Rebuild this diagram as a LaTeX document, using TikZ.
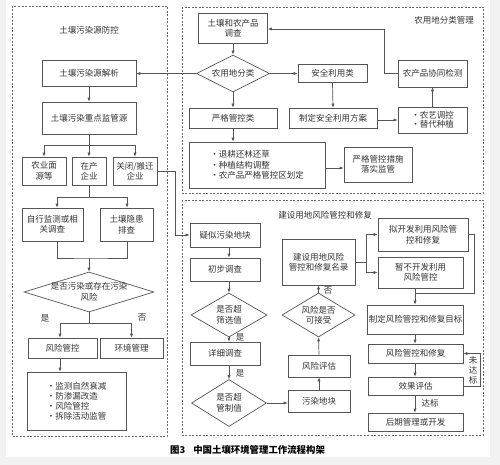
\documentclass[tikz,border=0pt]{standalone}
\usepackage{fontspec}
\setmainfont{Noto Sans CJK SC}
\usetikzlibrary{arrows.meta,shapes.geometric,calc}
\definecolor{tc}{HTML}{333333}
\definecolor{bc}{HTML}{555555}
\definecolor{lc}{HTML}{555555}
\definecolor{dc}{HTML}{6A6A6A}
\definecolor{bgc}{HTML}{F2F2F2}
\newcommand\fs{\fontsize{8.5}{10.5}\selectfont}
\tikzset{
  box/.style={draw=bc, line width=0.7pt, fill=white, inner sep=1pt, align=center, text=tc, font=\fs},
  dia/.style={draw=bc, line width=0.7pt, shape=diamond, inner sep=0pt, fill=white},
  txt/.style={text=tc, font=\fs, align=center, inner sep=0pt},
  ln/.style={draw=lc, line width=0.7pt},
  arr/.style={draw=lc, line width=0.7pt, -{Latex[length=4pt,width=3.2pt]}},
  dbox/.style={draw=dc, line width=0.6pt, dash pattern=on 2pt off 1.5pt},
}
\begin{document}
\begin{tikzpicture}[x=1pt,y=-1pt]
\useasboundingbox (0,0) rectangle (500,465);
\fill[bgc] (0,0) rectangle (500,465);
\fill[white] (6,0) rectangle (490,457);

% dashed panels
\draw[dbox] (12,6) rectangle (167,436);
\draw[dbox] (182,7) rectangle (483,193);
\draw[dbox] (182,200) rectangle (483,435);

% ---------- left panel ----------
\node[txt] (t1) at (89,30) {土壤污染源防控};
\node[box, minimum width=94, minimum height=26] (jx) at (89,73.5) {土壤污染源解析};
\node[box, minimum width=94, minimum height=32] (zd) at (89,118) {土壤污染重点监管源};
\node[box, minimum width=44, minimum height=28] (ny) at (44,171) {农业面\\源等};
\node[box, minimum width=34, minimum height=28] (zc) at (89,171) {在产\\企业};
\node[box, minimum width=44, minimum height=28] (gb) at (135,171) {关闭/搬迁\\企业};
\node[box, minimum width=61, minimum height=33] (zx) at (52.5,224.5) {自行监测或相\\关调查};
\node[box, minimum width=53, minimum height=33] (yh) at (126.5,224.5) {土壤隐患\\排查};
\node[dia, minimum width=130, minimum height=40] (d1) at (89,292) {};
\node[txt] at (d1) {是否污染或存在污染\\风险};
\node[txt] (ls) at (45,318) {是};
\node[txt] (lf) at (142,318) {否};
\node[box, minimum width=69, minimum height=20] (fx) at (62.5,348) {风险管控};
\node[box, minimum width=63, minimum height=20] (hj) at (131.5,348) {环境管理};
\node[box, align=left, minimum width=99, minimum height=58, font=\fontsize{8.5}{10}\selectfont] (b1) at (76.5,401) {·监测自然衰减\\·防渗漏改造\\·风险管控\\·拆除活动监管};

\draw[arr] (jx.south) -- (zd.north);
\draw[arr] (zd.south) -- ++(0,11) -| (ny.north);
\draw[arr] (zd.south) -- (zc.north);
\draw[arr] (zd.south) -- ++(0,11) -| (gb.north);
\draw[arr] (zc.south) -- ++(0,12) -| ($(zx.north)+(4.5,0)$);
\draw[arr] (zc.south) -- ++(0,12) -| ($(yh.north)+(0.5,0)$);
\coordinate (m1) at (89,258);
\draw[ln] ($(zx.south)+(4.5,0)$) |- (m1) -| ($(yh.south)+(0.5,0)$);
\draw[arr] (m1) -- (d1.north);
\coordinate (m2) at (89,323);
\draw[ln] (d1.south) -- (m2);
\draw[arr] (m2) -| ($(fx.north)+(-2.5,0)$);
\draw[arr] (m2) -| (hj.north);
\draw[arr] ($(fx.south)+(-2.5,0)$) coordinate (t0) -- (t0 |- b1.north);

% ---------- top right panel ----------
\node[txt] (t2) at (444,20) {农用地分类管理};
\node[box, minimum width=69, minimum height=30] (dc) at (233,28) {土壤和农产品\\调查};
\node[dia, minimum width=73, minimum height=37] (d2) at (233,73.5) {};
\node[txt] at (d2) {农用地分类};
\node[box, minimum width=69, minimum height=18] (aq) at (332.5,73.5) {安全利用类};
\node[box, minimum width=88, minimum height=20] (yg) at (233,118) {严格管控类};
\node[box, minimum width=88, minimum height=20] (zf) at (333,118) {制定安全利用方案};
\node[box, align=left, minimum width=69, minimum height=26, font=\fontsize{8.5}{9.5}\selectfont] (ny2) at (432.5,120) {·农艺调控\\·替代种植};
\node[box, minimum width=69, minimum height=27] (xt) at (432.5,73.5) {农产品协同检测};
\node[box, align=left, minimum width=136, minimum height=46] (b2) at (257,165) {·退耕还林还草\\·种植结构调整\\·农产品严格管控区划定};
\node[box, minimum width=68, minimum height=35] (yl) at (378,164.5) {严格管控措施\\落实监管};

\draw[arr] (dc.south) -- (d2.north);
\draw[arr] (d2.west) -- (jx.east);
\draw[arr] (d2.east) -- (aq.west);
\draw[arr] (d2.south) -- (yg.north);
\draw[arr] (aq.south) -- (zf.north);
\draw[arr] (zf.east |- ny2.west) -- (ny2.west);
\draw[arr] (ny2.north) -- (xt.south);
\draw[arr] (xt.west) -- ++(-13,0) |- ($(dc.east)+(0,1)$);
\draw[arr] (yg.south) -- (yg.south |- b2.north);
\draw[arr] ($(b2.east)+(0,3)$) coordinate (t1b) -- (t1b -| yl.west);

% ---------- bottom right panel ----------
\node[txt] (t3) at (325,215) {建设用地风险管控和修复};
\node[box, minimum width=70, minimum height=24] (ys) at (225,235) {疑似污染地块};
\node[box, minimum width=70, minimum height=23] (cb) at (225,269.5) {初步调查};
\node[dia, minimum width=76, minimum height=44] (d3) at (229,315) {};
\node[txt] at (d3) {是否超\\筛选值};
\node[box, minimum width=70, minimum height=23] (xx) at (225,353.5) {详细调查};
\node[dia, minimum width=75, minimum height=47] (d4) at (229,403) {};
\node[txt] at (d4) {是否超\\管制值};
\node[txt] (ls2) at (240,337) {是};
\node[txt] (ls3) at (240,373) {是};
\node[box, minimum width=62, minimum height=22] (wr) at (319,401) {污染地块};
\node[box, minimum width=62, minimum height=22] (fp) at (319,366) {风险评估};
\node[dia, minimum width=73, minimum height=44] (d5) at (318.5,315) {};
\node[txt] at (d5) {风险是否\\可接受};
\node[box, minimum width=73, minimum height=46] (ml) at (318.5,262) {建设用地风险\\管控和修复名录};
\node[txt] (lf2) at (328,291) {否};
\node[box, minimum width=90, minimum height=33] (kf) at (423,234.5) {拟开发利用风险管\\控和修复};
\node[box, minimum width=85, minimum height=31] (zb) at (420.5,272.5) {暂不开发利用\\风险管控};
\node[box, minimum width=95, minimum height=29] (mb) at (415.5,319.5) {制定风险管控和修复目标};
\node[box, minimum width=95, minimum height=19] (fx2) at (415.5,353.5) {风险管控和修复};
\node[box, minimum width=95, minimum height=18] (xp) at (415.5,386) {效果评估};
\node[box, minimum width=95, minimum height=18] (hq) at (415.5,422) {后期管理或开发};
\node[txt, font=\fontsize{8.5}{10}\selectfont] (wdb) at (473,370) {未\\达\\标};
\node[txt] (db) at (430,403.5) {达标};

\draw[arr] (gb.east) -- ++(18,0) |- (ys.west);
\draw[arr] ($(ys.south)+(4,0)$) coordinate (u1) -- (u1 |- cb.north);
\draw[arr] ($(cb.south)+(4,0)$) -- (d3.north);
\draw[arr] (d3.south) -- (d3.south |- xx.north);
\draw[arr] (d3.south |- xx.south) -- (d4.north);
\draw[arr] (d4.east) -- (d4.east -| wr.west);
\draw[arr] (wr.north) -- (fp.south);
\draw[arr] (fp.north) -- (d5.south);
\draw[arr] (d5.north) -- (ml.south);
\draw[arr] (ml.east) -- ++(11,0) |- (kf.west);
\draw[arr] (ml.east) -- ++(11,0) |- (zb.west);
\coordinate (j) at (415,293);
\draw[ln] (kf.east) -- ++(6,0) |- (j);
\draw[arr] (j |- zb.south) -- (j |- mb.north);
\draw[arr] (j |- mb.south) -- (j |- fx2.north);
\draw[arr] (j |- fx2.south) -- (j |- xp.north);
\draw[arr] (j |- xp.south) -- (j |- hq.north);
\draw[arr] (xp.east) -- ++(17,0) |- (fx2.east);

% caption
\node[anchor=west, inner sep=0pt, font=\fontsize{9.4}{11}\selectfont\bfseries, text=black] (cap) at (170,450) {图3\hspace{8pt}中国土壤环境管理工作流程构架};
\end{tikzpicture}
\end{document}
